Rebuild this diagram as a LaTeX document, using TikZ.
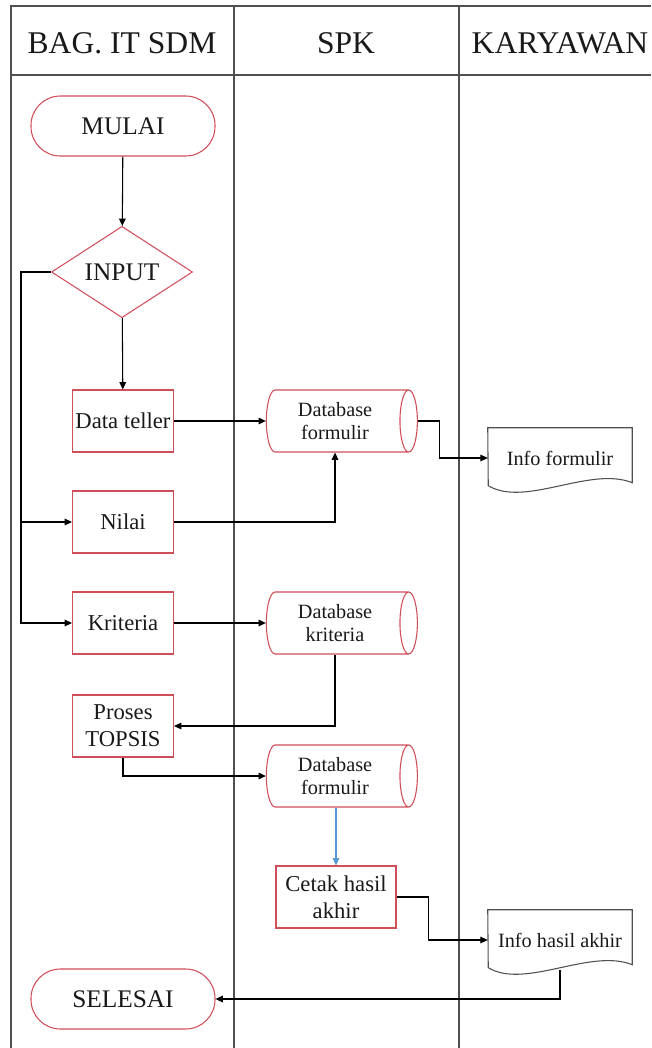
\documentclass[tikz,border=0pt]{standalone}
\usepackage{fontspec}
\setmainfont{Liberation Serif}
\usepackage{xcolor}
\usetikzlibrary{shapes.geometric}
\usetikzlibrary{arrows.meta}

\definecolor{boxred}{RGB}{208,78,88}
\definecolor{lanegray}{RGB}{80,80,80}
\definecolor{arrowblue}{RGB}{91,155,213}

\newcommand{\headfont}{\fontsize{23.7}{28}\selectfont}
\newcommand{\termfont}{\fontsize{19}{22}\selectfont}
\newcommand{\boxfont}{\fontsize{17}{20}\selectfont}
\newcommand{\smallfont}{\fontsize{15.2}{17}\selectfont}

\tikzstyle{lane}=[draw=lanegray, line width=1.5pt]
\tikzstyle{terminal}=[rectangle, rounded corners=22pt, draw=boxred, line width=0.8pt, minimum width=138pt, minimum height=45pt, font=\termfont]
\tikzstyle{process}=[rectangle, draw=boxred, line width=0.8pt, minimum width=75.75pt, minimum height=46.5pt, inner sep=1pt, align=center, font=\boxfont]
\tikzstyle{decision}=[diamond, draw=boxred, line width=0.8pt, minimum width=105.75pt, minimum height=63pt, inner sep=0pt, font=\termfont]
\tikzstyle{database}=[cylinder, draw=boxred, line width=0.8pt, aspect=0.38, minimum width=46.5pt, minimum height=113.25pt, align=center, font=\smallfont]
\tikzstyle{docbox}=[minimum width=108pt, minimum height=45pt, font=\smallfont]
\tikzstyle{link}=[-{Triangle[length=5.5pt, width=5pt]}, draw=black, line width=0.8pt]
\tikzstyle{bluelink}=[link, draw=arrowblue]

% paper outline with a wavy bottom edge
\newcommand{\docoutline}[1]{%
  \draw[draw=lanegray, line width=0.8pt] (#1.north west) -- (#1.north east) -- ++(0,55)
    .. controls +(-42,-17) and +(37,22) .. ++(-144,3) -- cycle;}

\begin{document}
\begin{tikzpicture}[x=0.75pt, y=-0.75pt, text=black!90]
    \useasboundingbox (0,0) rectangle (651,1048);

    % swimlanes
    \draw[lane] (11,1048) |- (651,6);
    \draw[lane] (11,75) -- (651,75);
    \draw[lane] (234,6) -- (234,1048);
    \draw[lane] (459,6) -- (459,1048);

    \node[font=\headfont] (hbag) at (122,43) {BAG. IT SDM};
    \node[font=\headfont] (hspk) at (346,43) {SPK};
    \node[font=\headfont] (hkar) at (560,43) {KARYAWAN};

    % BAG. IT SDM
    \node[terminal] (mulai)    at (123,126) {MULAI};
    \node[decision] (input)    at (122,272) {INPUT};
    \node[process]  (teller)   at (123,421) {Data teller};
    \node[process]  (nilai)    at (123,522) {Nilai};
    \node[process]  (kriteria) at (123,623) {Kriteria};
    \node[process]  (topsis)   at (123,726) {Proses\\TOPSIS};
    \node[terminal] (selesai)  at (123,999) {SELESAI};

    % SPK
    \node[database] (dbform)  at (335,421) {Database\\formulir};
    \node[database] (dbkrit)  at (335,623) {Database\\kriteria};
    \node[database] (dbhasil) at (335,776) {Database\\formulir};
    \node[process, minimum width=90pt] (cetak) at (336,897) {Cetak hasil\\akhir};

    % KARYAWAN
    \node[docbox] (infoform)  at (560,458) {Info formulir};
    \node[docbox] (infohasil) at (560,940) {Info hasil akhir};
    \docoutline{infoform}
    \docoutline{infohasil}

    \coordinate (rail) at (21,272);

    \draw[link] (mulai) -- (input);
    \draw[link] (input) -- (teller);
    \draw[link] (input.west) -- (rail) |- (kriteria.west);
    \draw[link] (rail) |- (nilai.west);
    \draw[link] (teller.east) -- (dbform.west);
    \draw[link] (nilai.east) -| (dbform.south);
    \draw[link] (dbform.east) -- ++(22,0) |- (infoform.west);
    \draw[link] (kriteria.east) -- (dbkrit.west);
    \draw[link] (dbkrit.south) |- (topsis.east);
    \draw[link] (topsis.south) |- (dbhasil.west);
    \draw[bluelink] (cetak.north |- dbhasil.south) -- (cetak.north);
    \draw[link] (cetak.east) -- ++(32,0) |- (infohasil.west);
    \draw[link] (infohasil.south) |- (selesai.east);
  \end{tikzpicture}
\end{document}
